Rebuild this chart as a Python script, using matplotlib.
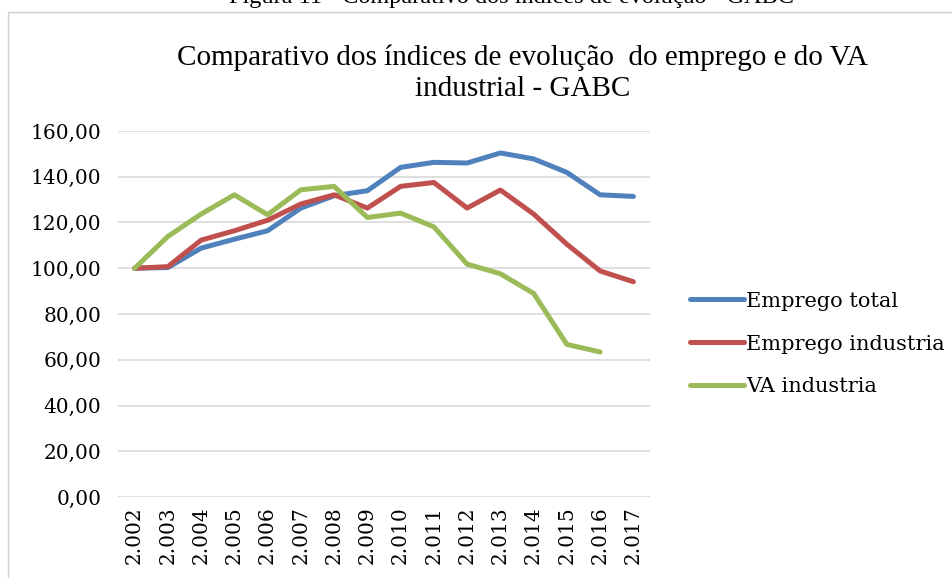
import numpy as np
import matplotlib.pyplot as plt
from matplotlib.patches import Rectangle

# Data
anos = ['2.002', '2.003', '2.004', '2.005', '2.006', '2.007', '2.008', '2.009',
        '2.010', '2.011', '2.012', '2.013', '2.014', '2.015', '2.016', '2.017']
emprego_total = [100.0, 100.3, 108.8, 112.7, 116.4, 126.3, 131.7, 133.9,
                 144.1, 146.3, 146.0, 150.4, 147.8, 141.9, 132.1, 131.4]
emprego_industria = [100.0, 100.7, 112.3, 116.4, 121.0, 128.1, 132.1, 126.3,
                     135.8, 137.5, 126.3, 134.2, 123.7, 110.5, 98.8, 94.1]
va_industria = [100.0, 113.9, 123.7, 132.1, 123.4, 134.3, 135.8, 122.2,
                124.1, 118.1, 101.8, 97.6, 89.0, 66.7, 63.4, np.nan]
y_ticks = [0, 20, 40, 60, 80, 100, 120, 140, 160]

plt.rcParams['font.family'] = ['Liberation Serif', 'DejaVu Serif']
serif2 = ['DejaVu Serif']

fig = plt.figure(figsize=(9.53, 5.78), dpi=100)

# chart frame (light gray border)
fig.patches.append(Rectangle((8 / 953, -0.01), 1.0, 1 - 12 / 578 + 0.01,
                             transform=fig.transFigure, fill=False,
                             edgecolor='#D0D0D0', linewidth=1.0))

fig.text(0.537, 1.005, 'Figura 11 - Comparativo dos índices de evolução - GABC',
         ha='center', va='center', fontsize=17.5)
fig.text(0.548, 0.873, 'Comparativo dos índices de evolução  do emprego e do VA\nindustrial - GABC',
         ha='center', va='center', fontsize=21, linespacing=1.25)

ax = fig.add_axes([118 / 953, 81 / 578, 532 / 953, 366 / 578])
x = np.arange(len(anos))
ax.plot(x, emprego_total, color='#4F81BD', lw=3.6, solid_capstyle='round',
        solid_joinstyle='round', label='Emprego total')
ax.plot(x, emprego_industria, color='#C0504D', lw=3.6, solid_capstyle='round',
        solid_joinstyle='round', label='Emprego industria')
ax.plot(x, va_industria, color='#9BBB59', lw=3.6, solid_capstyle='round',
        solid_joinstyle='round', label='VA industria')

ax.set_xlim(-0.5, len(anos) - 0.5)
ax.set_ylim(0, 160)
ax.set_yticks(y_ticks)
ax.set_yticklabels(['%d,00' % v for v in y_ticks], fontsize=14.5, family=serif2)
ax.set_xticks(x)
ax.set_xticklabels(anos, rotation=90, fontsize=14.5, family=serif2)
ax.tick_params(length=0)
ax.tick_params(axis='y', pad=12)
ax.tick_params(axis='x', pad=7)
ax.grid(axis='y', color='#D9D9D9', linewidth=1.2)
ax.set_axisbelow(True)
for s in ax.spines.values():
    s.set_visible(False)

ax.legend(loc='center left', bbox_to_anchor=(1.075, 0.418), frameon=False,
          prop={'family': serif2, 'size': 15}, handlelength=2.6,
          handletextpad=0.1, labelspacing=1.15, borderpad=0, borderaxespad=0)

plt.savefig('out.png', dpi=100)
